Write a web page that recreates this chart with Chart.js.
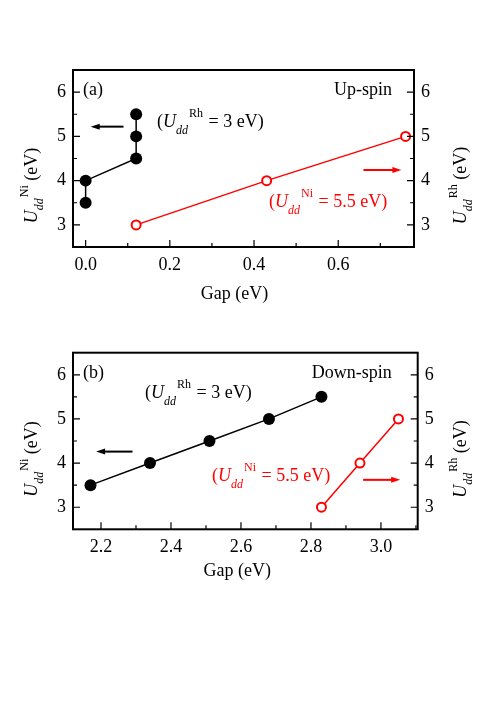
<!DOCTYPE html>
<html>
<head>
<meta charset="utf-8">
<script src="https://cdn.jsdelivr.net/npm/chart.js@4.4.1/dist/chart.umd.min.js"></script>
<style>
  body { margin: 0; background: #fff; }
  #page { position: relative; width: 491px; height: 706px; overflow: hidden; }
  canvas { position: absolute; left: 0; }
</style>
</head>
<body>
<div id="page">
  <canvas id="chartA" width="491" height="330" style="top:0"></canvas>
  <canvas id="chartB" width="491" height="320" style="top:300px"></canvas>
</div>
<script>
// panel (a): up-spin
const upGapNi = [0, 0, 0.12, 0.12, 0.12];
const upUNi = [3.5, 4.0, 4.5, 5.0, 5.5];
const upGapRh = [0.12, 0.43, 0.76];
const upURh = [3, 4, 5];
const upXTicks = [0.0, 0.2, 0.4, 0.6];

// panel (b): down-spin
const downGapNi = [2.17, 2.34, 2.51, 2.68, 2.83];
const downUNi = [3.5, 4.0, 4.5, 5.0, 5.5];
const downGapRh = [2.83, 2.94, 3.05];
const downURh = [3, 4, 5];
const downXTicks = [2.2, 2.4, 2.6, 2.8, 3.0];

const yTicks = [3, 4, 5, 6];

const FONT = '"Liberation Serif", "Times New Roman", serif';
const RED = '#ff0000';

function pts(xs, ys) {
  return xs.map((x, i) => ({ x: x, y: ys[i] }));
}

function setFont(ctx, p) {
  ctx.font = (p.i ? 'italic ' : '') + (p.s || 18) + 'px ' + FONT;
}

function richWidth(ctx, parts) {
  let w = 0;
  parts.forEach(p => { setFont(ctx, p); w += ctx.measureText(p.t).width + (p.dx || 0); });
  return w;
}

function rich(ctx, x, y, parts, color) {
  ctx.fillStyle = color;
  ctx.textAlign = 'left';
  ctx.textBaseline = 'alphabetic';
  parts.forEach(p => {
    setFont(ctx, p);
    x += p.dx || 0;
    ctx.fillText(p.t, x, y + (p.dy || 0));
    x += ctx.measureText(p.t).width;
  });
}

function uLabel(sup, rest) {
  return [
    { t: 'U', i: true },
    { t: 'dd', i: true, s: 12, dy: 6 },
    { t: sup, s: 12, dy: -9, dx: 1 },
    { t: rest }
  ];
}

function note(sup, rest) {
  return [
    { t: '(' },
    { t: 'U', i: true },
    { t: 'dd', i: true, s: 12, dy: 7 },
    { t: sup, s: 12, dy: -10, dx: 1 },
    { t: rest, dx: 1 }
  ];
}

function arrow(ctx, x0, y0, x1, y1, color) {
  const dir = Math.sign(x1 - x0);
  ctx.strokeStyle = color;
  ctx.fillStyle = color;
  ctx.lineWidth = 2;
  ctx.beginPath();
  ctx.moveTo(x0, y0);
  ctx.lineTo(x1 - dir * 6, y1);
  ctx.stroke();
  ctx.beginPath();
  ctx.moveTo(x1, y1);
  ctx.lineTo(x1 - dir * 9, y1 - 3);
  ctx.lineTo(x1 - dir * 9, y1 + 3);
  ctx.closePath();
  ctx.fill();
}

function minors(scale, ticks) {
  const step = ticks[1] - ticks[0];
  const out = [];
  for (let v = ticks[0] - step / 2; v < scale.max; v += step) {
    if (v > scale.min + 1e-9 && v < scale.max - 1e-9) out.push(v);
  }
  return out;
}

// box, inward ticks, titles and notes
const framePlugin = {
  id: 'frame',
  afterDraw(chart, args, o) {
    const ctx = chart.ctx;
    const a = chart.chartArea;
    const sx = chart.scales.x, sy = chart.scales.y, sy2 = chart.scales.y2;
    ctx.save();
    ctx.strokeStyle = '#000';
    ctx.lineWidth = 1.2;
    ctx.beginPath();
    o.xTicks.forEach(v => {
      const px = sx.getPixelForValue(v);
      ctx.moveTo(px, a.bottom); ctx.lineTo(px, a.bottom - 7);
    });
    minors(sx, o.xTicks).forEach(v => {
      const px = sx.getPixelForValue(v);
      ctx.moveTo(px, a.bottom); ctx.lineTo(px, a.bottom - 4);
    });
    yTicks.forEach(v => {
      const py = sy.getPixelForValue(v);
      ctx.moveTo(a.left, py); ctx.lineTo(a.left + 7, py);
      const py2 = sy2.getPixelForValue(v);
      ctx.moveTo(a.right, py2); ctx.lineTo(a.right - 7, py2);
    });
    minors(sy, yTicks).forEach(v => {
      const py = sy.getPixelForValue(v);
      ctx.moveTo(a.left, py); ctx.lineTo(a.left + 4, py);
      const py2 = sy2.getPixelForValue(v);
      ctx.moveTo(a.right, py2); ctx.lineTo(a.right - 4, py2);
    });
    ctx.stroke();
    ctx.lineWidth = 2;
    ctx.strokeRect(a.left, a.top, a.right - a.left, a.bottom - a.top);

    // axis titles
    const midY = (a.top + a.bottom) / 2 + o.titleShift;
    const left = uLabel('Ni', ' (eV)');
    const right = uLabel('Rh', ' (eV)');
    ctx.save();
    ctx.translate(37, midY);
    ctx.rotate(-Math.PI / 2);
    rich(ctx, -richWidth(ctx, left) / 2, 0, left, '#000');
    ctx.restore();
    ctx.save();
    ctx.translate(466, midY);
    ctx.rotate(-Math.PI / 2);
    rich(ctx, -richWidth(ctx, right) / 2, 0, right, '#000');
    ctx.restore();

    const gap = [{ t: 'Gap (eV)' }];
    rich(ctx, (a.left + a.right) / 2 + o.gapDx - richWidth(ctx, gap) / 2, a.bottom + o.gapDy, gap, '#000');

    // panel label and spin
    rich(ctx, a.left + 10, a.top + 25, [{ t: o.tag }], '#000');
    const spin = [{ t: o.spin }];
    rich(ctx, a.right + o.spinDx - richWidth(ctx, spin), a.top + 25, spin, '#000');

    // notes
    rich(ctx, a.left + o.niNote[0], a.top + o.niNote[1], note('Rh', ' = 3 eV)'), '#000');
    rich(ctx, a.left + o.rhNote[0], a.top + o.rhNote[1], note('Ni', ' = 5.5 eV)'), RED);

    // arrows (data units)
    const an = o.niArrow, ar = o.rhArrow;
    arrow(ctx, sx.getPixelForValue(an[0]), sy.getPixelForValue(an[2]),
      sx.getPixelForValue(an[1]), sy.getPixelForValue(an[2]), '#000');
    arrow(ctx, sx.getPixelForValue(ar[0]), sy2.getPixelForValue(ar[2]),
      sx.getPixelForValue(ar[1]), sy2.getPixelForValue(ar[2]), RED);
    ctx.restore();
  }
};

function makeChart(id, cfg) {
  const tickFont = { family: FONT, size: 18 };
  return new Chart(document.getElementById(id), {
    type: 'scatter',
    data: {
      datasets: [{
        data: pts(cfg.niX, cfg.niY),
        yAxisID: 'y',
        showLine: true,
        borderColor: '#000',
        borderWidth: 1.5,
        backgroundColor: '#000',
        pointRadius: 6,
        pointBorderWidth: 0
      }, {
        data: pts(cfg.rhX, cfg.rhY),
        yAxisID: 'y2',
        showLine: true,
        borderColor: RED,
        borderWidth: 1.5,
        pointBackgroundColor: '#fff',
        pointBorderColor: RED,
        pointRadius: 4.5,
        pointBorderWidth: 2
      }]
    },
    options: {
      responsive: false,
      animation: false,
      layout: { padding: { top: cfg.top, left: 0, right: 0, bottom: 0 } },
      plugins: {
        legend: { display: false },
        tooltip: { enabled: false },
        frame: cfg.frame
      },
      scales: {
        x: {
          type: 'linear',
          min: cfg.xMin,
          max: cfg.xMax,
          grid: { display: false, drawTicks: false },
          border: { display: false },
          afterBuildTicks: s => { s.ticks = cfg.xTicks.map(v => ({ value: v })); },
          afterFit: s => { s.height = cfg.xH; },
          ticks: { color: '#000', font: tickFont, padding: 7, maxRotation: 0,
            callback: v => v.toFixed(1) }
        },
        y: {
          position: 'left',
          min: 2.5,
          max: 6.5,
          grid: { display: false, drawTicks: false },
          border: { display: false },
          afterBuildTicks: s => { s.ticks = yTicks.map(v => ({ value: v })); },
          afterFit: s => { s.width = 73; },
          ticks: { color: '#000', font: tickFont, padding: 7 }
        },
        y2: {
          position: 'right',
          min: 2.5,
          max: 6.5,
          grid: { display: false, drawTicks: false },
          border: { display: false },
          afterBuildTicks: s => { s.ticks = yTicks.map(v => ({ value: v })); },
          afterFit: s => { s.width = cfg.rightW; },
          ticks: { color: '#000', font: tickFont, padding: 7 }
        }
      }
    },
    plugins: [framePlugin]
  });
}

makeChart('chartA', {
  niX: upGapNi, niY: upUNi, rhX: upGapRh, rhY: upURh,
  xMin: -0.03, xMax: 0.78, xTicks: upXTicks,
  top: 70, xH: 83, rightW: 77,
  frame: {
    xTicks: upXTicks, titleShift: 27, gapDx: -9, gapDy: 52,
    tag: '(a)', spin: 'Up-spin', spinDx: -22,
    niNote: [84, 57], rhNote: [196, 137],
    niArrow: [0.09, 0.012, 5.22], rhArrow: [0.66, 0.75, 4.24]
  }
});

makeChart('chartB', {
  niX: downGapNi, niY: downUNi, rhX: downGapRh, rhY: downURh,
  xMin: 2.12, xMax: 3.105, xTicks: downXTicks,
  top: 52.7, xH: 90.7, rightW: 73.3,
  frame: {
    xTicks: downXTicks, titleShift: 18, gapDx: -8, gapDy: 47,
    tag: '(b)', spin: 'Down-spin', spinDx: -26,
    niNote: [72, 45], rhNote: [139, 128],
    niArrow: [2.29, 2.186, 4.26], rhArrow: [2.949, 3.055, 3.62]
  }
});
</script>
</body>
</html>
